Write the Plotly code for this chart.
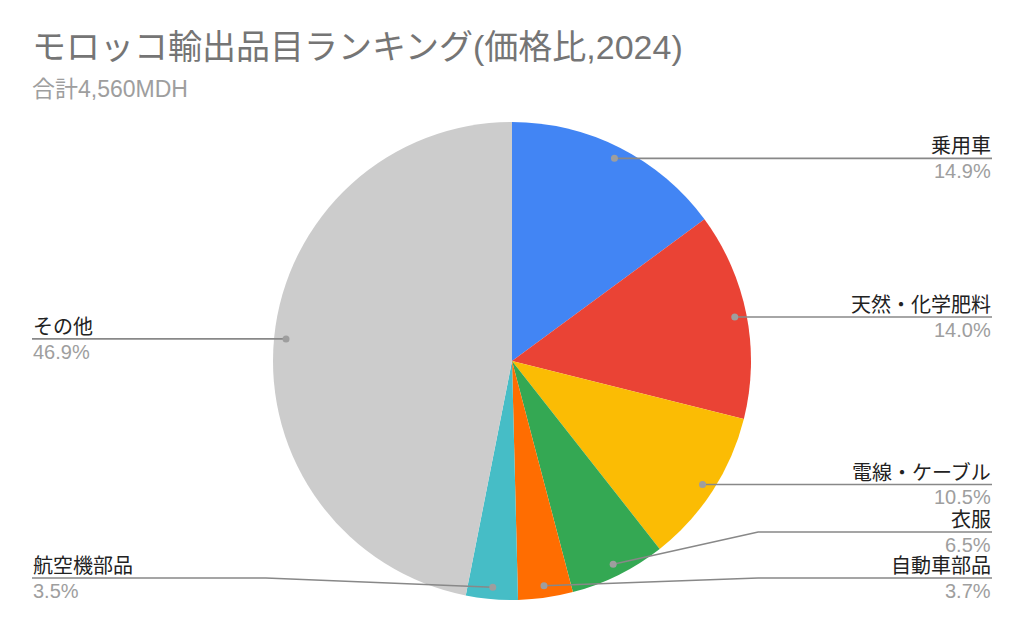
import math
import plotly.graph_objects as go

# data
labels = ["乗用車", "天然・化学肥料", "電線・ケーブル", "衣服", "自動車部品", "航空機部品", "その他"]
shares = [14.9, 14.0, 10.5, 6.5, 3.7, 3.5, 46.9]
colors = ["#4285F4", "#EA4335", "#FBBC04", "#34A853", "#FF6D01", "#46BDC6", "#CCCCCC"]

title = "モロッコ輸出品目ランキング(価格比,2024)"
subtitle = "合計4,560MDH"

# page is offset by the 8px body margin, so work in window pixels
OFF = 8
W, H = 1024 - 2 * OFF, 633 - 2 * OFF
cx, cy, R = 512, 361, 239
FONT = "'Liberation Sans', Arial, 'Noto Sans CJK JP', sans-serif"

fig = go.Figure()
fig.add_trace(go.Pie(
    labels=labels, values=shares, sort=False, direction="clockwise", rotation=0,
    marker=dict(colors=colors, line=dict(width=0)),
    textinfo="none", hoverinfo="label+percent", showlegend=False,
    domain=dict(x=[(cx - R - OFF) / W, (cx + R - OFF) / W],
                y=[1 - (cy + R - OFF) / H, 1 - (cy - R - OFF) / H]),
))

# slice midpoints -> anchor dots
total = sum(shares)
cum = 0
anchors = []
for lab, v in zip(labels, shares):
    a = 2 * math.pi * (cum + v / 2) / total
    cum += v
    anchors.append((lab, v, cx + 0.95 * R * math.sin(a), cy - 0.95 * R * math.cos(a)))

# label lines on each side, pushed up from the bottom so they don't overlap
gap, ymax = 46, 578
placed = {}
for side in ("right", "left"):
    items = [t for t in anchors if (t[2] >= cx) == (side == "right")]
    items.sort(key=lambda t: t[3], reverse=True)
    limit = ymax
    for lab, v, x, y in items:
        ly = min(y, limit)
        placed[lab] = (side, x, y, ly)
        limit = ly - gap

shapes = []
annotations = []
for lab, v, _, _ in anchors:
    side, x, y, ly = placed[lab]
    edge = 992 if side == "right" else 32
    knee = cx + 1.03 * R if side == "right" else cx - 1.03 * R
    if abs(ly - y) < 1:
        ly = y
        path = f"M {x},{y} L {edge},{y}"
    else:
        path = f"M {x},{y} L {knee},{ly} L {edge},{ly}"
    shapes.append(dict(type="path", path=path, xref="x", yref="y", layer="above",
                       line=dict(color="#888888", width=1.6)))
    shapes.append(dict(type="circle", xref="x", yref="y", layer="above",
                       x0=x - 3.5, x1=x + 3.5, y0=y - 3.5, y1=y + 3.5,
                       fillcolor="#9e9e9e", line=dict(width=0)))
    anchor = "right" if side == "right" else "left"
    annotations.append(dict(x=edge, y=ly - 12, xref="x", yref="y", text=lab, showarrow=False,
                            xanchor=anchor, yanchor="middle", borderpad=0,
                            font=dict(size=20, color="#222222", family=FONT)))
    annotations.append(dict(x=edge, y=ly + 13, xref="x", yref="y", text=f"{v:.1f}%", showarrow=False,
                            xanchor=anchor, yanchor="middle", borderpad=0,
                            font=dict(size=20, color="#9e9e9e", family=FONT)))

annotations.append(dict(x=31, y=47, xref="x", yref="y", text=title, showarrow=False,
                        xanchor="left", yanchor="middle", borderpad=0,
                        font=dict(size=34, color="#757575", family=FONT)))
annotations.append(dict(x=31, y=89, xref="x", yref="y", text=subtitle, showarrow=False,
                        xanchor="left", yanchor="middle", borderpad=0,
                        font=dict(size=23, color="#9e9e9e", family=FONT)))

fig.update_layout(
    width=W, height=H,
    margin=dict(l=0, r=0, t=0, b=0),
    paper_bgcolor="white", plot_bgcolor="rgba(0,0,0,0)",
    xaxis=dict(range=[OFF, OFF + W], visible=False, fixedrange=True),
    yaxis=dict(range=[OFF + H, OFF], visible=False, fixedrange=True),
    shapes=shapes, annotations=annotations,
    font=dict(family=FONT),
)

fig.write_html("out.html")
